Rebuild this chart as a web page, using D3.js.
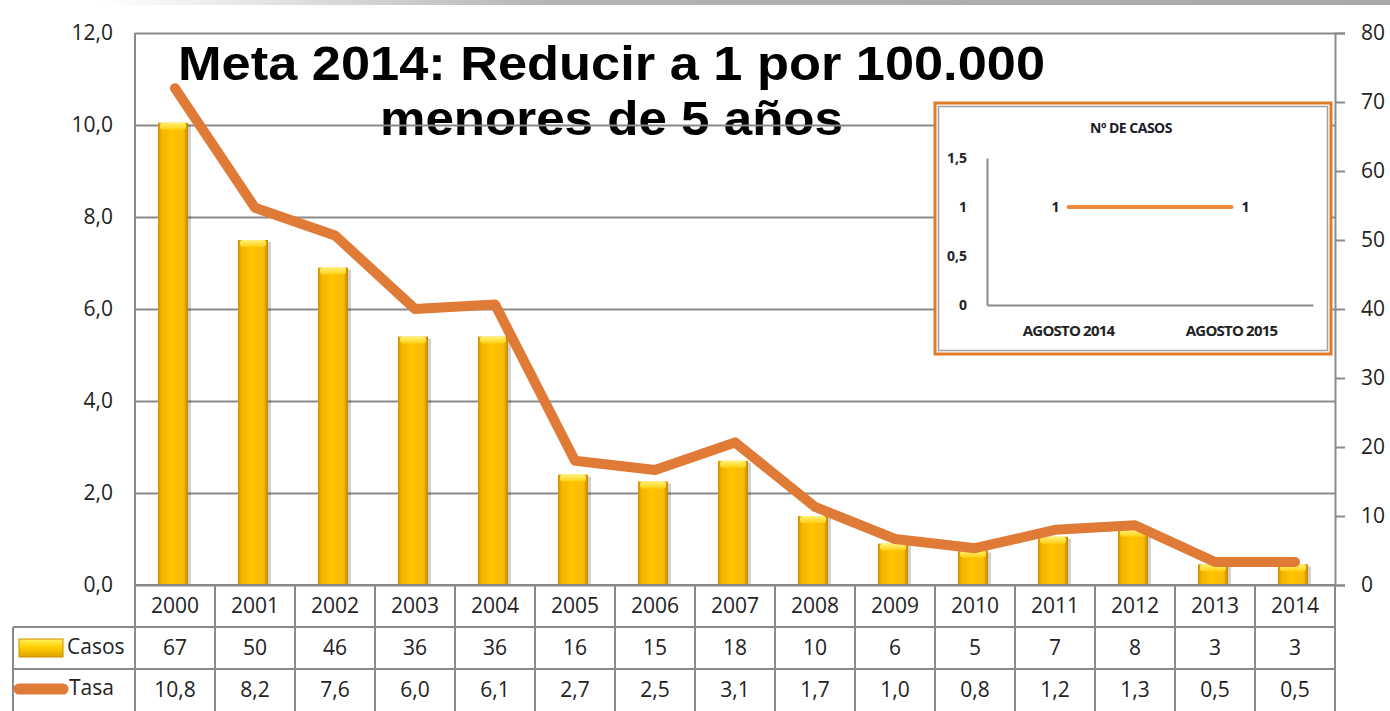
<!DOCTYPE html>
<html>
<head>
<meta charset="utf-8">
<script src="https://cdn.jsdelivr.net/npm/d3@7"></script>
<style>
  body { margin: 0; background: #fff; }
  svg { display: block; }
  text { font-family: "Open Sans", Lato, sans-serif; fill: #222; }
</style>
</head>
<body>
<div class="chart"></div>
<script>
// Data
let years = ["2000", "2001", "2002", "2003", "2004", "2005", "2006", "2007", "2008", "2009", "2010", "2011", "2012", "2013", "2014"];
let casos = [67, 50, 46, 36, 36, 16, 15, 18, 10, 6, 5, 7, 8, 3, 3];
let tasa = [10.8, 8.2, 7.6, 6.0, 6.1, 2.7, 2.5, 3.1, 1.7, 1.0, 0.8, 1.2, 1.3, 0.5, 0.5];
let leftTicks = [0, 2, 4, 6, 8, 10, 12];
let rightTicks = [0, 10, 20, 30, 40, 50, 60, 70, 80];

// inset chart
let insetCats = ["AGOSTO 2014", "AGOSTO 2015"];
let insetValues = [1, 1];
let insetTicks = [0, 0.5, 1, 1.5];

let W = 1390, H = 711;
let plotLeft = 135, plotRight = 1335, plotTop = 33, plotBottom = 585;
let rowH = [42, 42, 42];

let comma1 = d => d.toFixed(1).replace(".", ",");

let svg = d3.select(".chart").append("svg")
    .attr("width", W)
    .attr("height", H);

let defs = svg.append("defs");

// top slide bar
let topGrad = defs.append("linearGradient").attr("id", "topGrad");
topGrad.append("stop").attr("offset", "0%").attr("stop-color", "#ffffff");
topGrad.append("stop").attr("offset", "35%").attr("stop-color", "#b4b4b4");
topGrad.append("stop").attr("offset", "100%").attr("stop-color", "#a8a8a8");
svg.append("rect")
    .attr("x", 100).attr("y", 0)
    .attr("width", W - 100).attr("height", 5)
    .style("fill", "url(#topGrad)");

// bar gradients
let barGrad = defs.append("linearGradient").attr("id", "barGrad");
[["0%", "#d09000"], ["12%", "#f5b400"], ["45%", "#ffc400"], ["85%", "#fbbb00"], ["100%", "#c08500"]]
    .forEach(s => barGrad.append("stop").attr("offset", s[0]).attr("stop-color", s[1]));

let capGrad = defs.append("linearGradient").attr("id", "capGrad")
    .attr("x1", 0).attr("y1", 0).attr("x2", 0).attr("y2", 1);
capGrad.append("stop").attr("offset", "0%").attr("stop-color", "#fff27a");
capGrad.append("stop").attr("offset", "100%").attr("stop-color", "#ffcf10");

let legGrad = defs.append("linearGradient").attr("id", "legGrad")
    .attr("x1", 0).attr("y1", 0).attr("x2", 0).attr("y2", 1);
legGrad.append("stop").attr("offset", "0%").attr("stop-color", "#fff25a");
legGrad.append("stop").attr("offset", "45%").attr("stop-color", "#ffd000");
legGrad.append("stop").attr("offset", "100%").attr("stop-color", "#e2a200");

// Scales
let x = d3.scaleBand()
    .domain(years)
    .range([plotLeft, plotRight]);

let yLeft = d3.scaleLinear()
    .domain([0, 12])
    .range([plotBottom, plotTop]);

let yRight = d3.scaleLinear()
    .domain([0, 80])
    .range([plotBottom, plotTop]);

// Title (sits under the gridlines)
let title = svg.append("g");
title.append("text")
    .attr("x", 178).attr("y", 80)
    .attr("textLength", 867)
    .attr("lengthAdjust", "spacingAndGlyphs")
    .style("fill", "#000")
    .style("font-family", "'Liberation Sans', Arial, sans-serif")
    .style("font-weight", "bold")
    .style("font-size", "49px")
    .text("Meta 2014: Reducir a 1 por 100.000");
title.append("text")
    .attr("x", 380).attr("y", 135)
    .attr("textLength", 463)
    .attr("lengthAdjust", "spacingAndGlyphs")
    .style("fill", "#000")
    .style("font-family", "'Liberation Sans', Arial, sans-serif")
    .style("font-weight", "bold")
    .style("font-size", "49px")
    .text("menores de 5 años");

// Gridlines
svg.append("g")
    .attr("class", "grid")
    .attr("transform", `translate(${plotLeft},0)`)
    .call(d3.axisLeft(yLeft).tickValues(leftTicks).tickSize(-(plotRight - plotLeft)).tickFormat(""))
    .call(g => g.select(".domain").remove())
    .call(g => g.selectAll("line").attr("stroke", "#8a8a8a").attr("stroke-width", 2));

// Left axis labels
svg.append("g")
    .attr("transform", `translate(${plotLeft},0)`)
    .call(d3.axisLeft(yLeft).tickValues(leftTicks).tickSize(0).tickPadding(22).tickFormat(comma1))
    .call(g => g.select(".domain").remove())
    .call(g => g.selectAll("text").style("font-family", "'Open Sans', sans-serif").style("font-size", "21px").attr("fill", "#222"));

// Right axis
svg.append("g")
    .attr("transform", `translate(${plotRight},0)`)
    .call(d3.axisRight(yRight).tickValues(rightTicks).tickSize(10).tickPadding(16))
    .call(g => g.select(".domain").attr("stroke", "#8a8a8a").attr("stroke-width", 2))
    .call(g => g.selectAll("line").attr("stroke", "#8a8a8a").attr("stroke-width", 2))
    .call(g => g.selectAll("text").style("font-family", "'Open Sans', sans-serif").style("font-size", "21px").attr("fill", "#222"));

// left axis line
svg.append("line")
    .attr("x1", plotLeft).attr("x2", plotLeft)
    .attr("y1", plotTop).attr("y2", H)
    .attr("stroke", "#8a8a8a").attr("stroke-width", 2);

// Bars (casos, right axis)
let barW = 30;
let bars = svg.append("g").attr("class", "bars");
years.forEach((yr, i) => {
    let bx = x(yr) + x.bandwidth() / 2 - barW / 2 - 2;
    let by = yRight(casos[i]);
    bars.append("rect")
        .attr("x", bx + 3).attr("y", by + 2)
        .attr("width", barW).attr("height", plotBottom - by - 2)
        .attr("fill", "#000").attr("opacity", 0.18);
    bars.append("rect")
        .attr("x", bx).attr("y", by)
        .attr("width", barW).attr("height", plotBottom - by)
        .style("fill", "url(#barGrad)");
    bars.append("rect")
        .attr("x", bx + 2).attr("y", by)
        .attr("width", barW - 4).attr("height", 7)
        .attr("rx", 3)
        .style("fill", "url(#capGrad)");
});

// Line (tasa, left axis)
let line = d3.line()
    .x((d, i) => x(years[i]) + x.bandwidth() / 2)
    .y(d => yLeft(d));

svg.append("path")
    .datum(tasa)
    .attr("d", line)
    .attr("fill", "none")
    .attr("stroke", "#df7b37")
    .attr("stroke-width", 10)
    .attr("stroke-linejoin", "round")
    .attr("stroke-linecap", "round");

// Data table
let table = svg.append("g").attr("class", "table");
let rowTop = [plotBottom, plotBottom + rowH[0], plotBottom + rowH[0] + rowH[1], H];
let gridColor = "#8a8a8a";

// horizontal lines
[rowTop[1], rowTop[2]].forEach(yv => {
    table.append("line")
        .attr("x1", 13).attr("x2", plotRight)
        .attr("y1", yv).attr("y2", yv)
        .attr("stroke", gridColor).attr("stroke-width", 2);
});
table.append("line")
    .attr("x1", plotLeft).attr("x2", plotRight)
    .attr("y1", plotBottom).attr("y2", plotBottom)
    .attr("stroke", gridColor).attr("stroke-width", 2);
table.append("line")
    .attr("x1", 13).attr("x2", 13)
    .attr("y1", rowTop[1]).attr("y2", H)
    .attr("stroke", gridColor).attr("stroke-width", 2);

// vertical lines
years.forEach(yr => {
    table.append("line")
        .attr("x1", x(yr) + x.bandwidth()).attr("x2", x(yr) + x.bandwidth())
        .attr("y1", plotBottom).attr("y2", H)
        .attr("stroke", gridColor).attr("stroke-width", 2);
});

let rows = [years, casos.map(String), tasa.map(comma1)];
rows.forEach((vals, r) => {
    table.selectAll(null)
        .data(vals)
        .join("text")
        .attr("x", (d, i) => x(years[i]) + x.bandwidth() / 2)
        .attr("y", (rowTop[r] + rowTop[r + 1]) / 2 + 1)
        .attr("text-anchor", "middle")
        .attr("dominant-baseline", "middle")
        .style("font-size", "21px")
        .text(d => d);
});

// legend keys in table
table.append("rect")
    .attr("x", 19).attr("y", 639)
    .attr("width", 44).attr("height", 18)
    .attr("stroke", "#c89000").attr("stroke-width", 1)
    .style("fill", "url(#legGrad)");
table.append("text")
    .attr("x", 67).attr("y", 648)
    .attr("dominant-baseline", "middle")
    .style("font-size", "21px")
    .text("Casos");
table.append("line")
    .attr("x1", 19).attr("x2", 63)
    .attr("y1", 689).attr("y2", 689)
    .attr("stroke", "#df7b37").attr("stroke-width", 11)
    .attr("stroke-linecap", "round");
table.append("text")
    .attr("x", 69).attr("y", 689)
    .attr("dominant-baseline", "middle")
    .style("font-size", "21px")
    .text("Tasa");

// Inset chart
let inset = svg.append("g").attr("class", "inset");
inset.append("rect")
    .attr("x", 935).attr("y", 103)
    .attr("width", 396).attr("height", 251)
    .attr("fill", "#fff")
    .attr("stroke", "#e07b2a").attr("stroke-width", 3);
inset.append("rect")
    .attr("x", 938.5).attr("y", 106.5)
    .attr("width", 389).attr("height", 244)
    .attr("fill", "none")
    .attr("stroke", "#a0a0a0").attr("stroke-width", 1.5);

inset.append("text")
    .attr("x", 1131).attr("y", 129)
    .attr("text-anchor", "middle")
    .attr("dominant-baseline", "middle")
    .style("font-size", "14px")
    .style("font-weight", "bold")
    .style("letter-spacing", "-0.5px")
    .style("fill", "#1a1a2a")
    .text("Nº DE CASOS");

let ix = d3.scaleBand()
    .domain(insetCats)
    .range([987, 1313]);
let iy = d3.scaleLinear()
    .domain([0, 1.5])
    .range([305, 158]);

inset.append("g")
    .attr("transform", "translate(987,0)")
    .call(d3.axisLeft(iy).tickValues(insetTicks).tickSize(0).tickPadding(20)
        .tickFormat(d => String(d).replace(".", ",")))
    .call(g => g.select(".domain").attr("stroke", "#8a8a8a").attr("stroke-width", 2))
    .call(g => g.selectAll("text").style("font-size", "14px").style("font-weight", "bold").attr("fill", "#1a1a2a"));

inset.append("g")
    .attr("transform", "translate(0,305)")
    .call(d3.axisBottom(ix).tickSize(0).tickPadding(20))
    .call(g => g.select(".domain").attr("stroke", "#8a8a8a").attr("stroke-width", 2))
    .call(g => g.selectAll("text").style("font-size", "15px").style("font-weight", "bold").style("letter-spacing", "-0.8px").attr("fill", "#1a1a2a"));

let insetLine = d3.line()
    .x((d, i) => ix(insetCats[i]) + ix.bandwidth() / 2)
    .y(d => iy(d));
inset.append("path")
    .datum(insetValues)
    .attr("d", insetLine)
    .attr("fill", "none")
    .attr("stroke", "#f08a3a")
    .attr("stroke-width", 4)
    .attr("stroke-linecap", "round");

inset.selectAll(".ilab")
    .data(insetValues)
    .join("text")
    .attr("class", "ilab")
    .attr("x", (d, i) => ix(insetCats[i]) + ix.bandwidth() / 2 + (i === 0 ? -13 : 14))
    .attr("y", d => iy(d) + 1)
    .attr("text-anchor", "middle")
    .attr("dominant-baseline", "middle")
    .style("font-size", "14px")
    .style("font-weight", "bold")
    .style("fill", "#1a1a2a")
    .text(d => d);
</script>
</body>
</html>
